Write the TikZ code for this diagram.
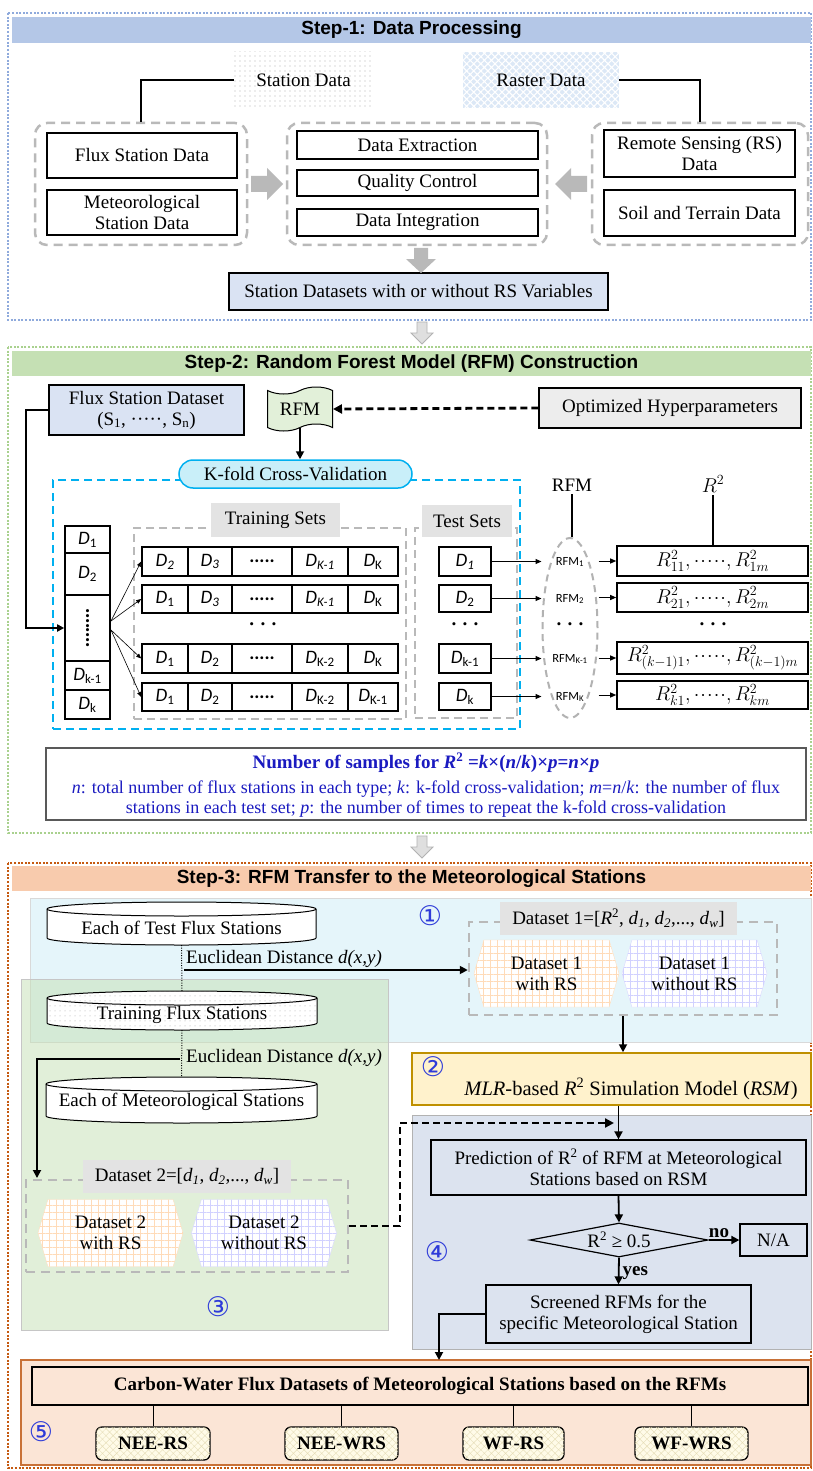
\documentclass[tikz,border=0pt]{standalone}
\usepackage{fix-cm}
\usepackage{graphicx}
\usepackage{fontspec}
\setmainfont{Liberation Serif}
\newfontfamily\headfont{Liberation Sans}
\newfontfamily\calfont{Carlito}
\newfontfamily\symfont{DejaVu Sans}
\DeclareMathSizes{19}{19}{13}{10}
\DeclareMathSizes{18}{18}{12.5}{9.5}
\DeclareMathSizes{20}{20}{14}{10}
\usetikzlibrary{arrows.meta,shapes.geometric,shapes.symbols,patterns,patterns.meta,calc}
\definecolor{fra}{HTML}{8FAADC}
\definecolor{hda}{HTML}{B4C7E7}
\definecolor{frb}{HTML}{A9D18E}
\definecolor{hdb}{HTML}{C5E0B4}
\definecolor{frc}{HTML}{C55A11}
\definecolor{hdc}{HTML}{F8CBAD}
\definecolor{lb}{HTML}{DAE3F3}
\definecolor{rfmg}{HTML}{E2F0D9}
\definecolor{optg}{HTML}{EDEDED}
\definecolor{cy}{HTML}{00B0F0}
\definecolor{kfill}{HTML}{C9EFF9}
\definecolor{labgray}{HTML}{E3E3E3}
\definecolor{nb}{HTML}{1A1AC0}
\definecolor{rega}{HTML}{E5F5FA}
\definecolor{regc}{HTML}{C5E0B4}
\definecolor{regd}{HTML}{DCE3EF}
\definecolor{rsmf}{HTML}{FFF2CC}
\definecolor{rsmb}{HTML}{BF9000}
\definecolor{rege}{HTML}{FBE5D6}
\definecolor{regeb}{HTML}{C87137}
\definecolor{circ}{HTML}{2E3BD9}
\definecolor{rastf}{HTML}{DCE8F6}
\definecolor{neef}{HTML}{FFFBE8}
\definecolor{neep}{HTML}{E6DDB8}
\newcommand\fs{\fontsize{19}{21}\selectfont}
\newcommand\Dn[1]{{\calfont\itshape D}\textsubscript{\calfont #1}}
\newcommand\Di[1]{{\calfont\itshape D\textsubscript{#1}}}
\newcommand\rowcells[8]{%
 \node[cell, rect={142,#2,188,#3}] (#1a) {#4};
 \node[cell, rect={188,#2,232,#3}] (#1b) {#5};
 \node[cell, rect={232,#2,292,#3}] (#1c) {#6};
 \node[cell, rect={292,#2,348,#3}] (#1d) {#7};
 \node[cell, rect={348,#2,398,#3}] (#1e) {#8};}
\newcommand\cdd{{\calfont\bfseries .....}}
\newcommand\rr[2]{$R^{2}_{#1},\cdot\!\cdot\!\cdot\!\cdot\!\cdot,R^{2}_{#2}$}
\begin{document}
\begin{tikzpicture}[x=1pt,y=-1pt,
  every node/.style={font=\fs, inner sep=0pt, align=center},
  rect/.style args={#1,#2,#3,#4}{minimum width={#3-#1}, minimum height={#4-#2}, at={({(#1+#3)/2},{(#2+#4)/2})}},
  bx/.style={draw, line width=1.5pt},
  cell/.style={draw, line width=1.6pt},
  grp/.style={draw=gray!55, line width=2.5pt, dash pattern=on 9pt off 6pt, rounded corners=12pt},
  sqgrp/.style={draw=gray!55, line width=2pt, dash pattern=on 8pt off 5pt},
  lab/.style={fill=labgray},
  hd/.style={font={\headfont\bfseries\fs}},
  arr/.style={line width=1.8pt, -{Triangle[length=8pt,width=8pt]}},
  thinarr/.style={line width=0.6pt, -{Triangle[length=5pt,width=4pt]}},
  midarr/.style={line width=1pt, -{Triangle[length=6pt,width=5pt]}},
  dasharr/.style={line width=2.8pt, dash pattern=on 7pt off 4pt, -{Triangle[length=9pt,width=9pt]}},
  sym/.style={font={\symfont\fontsize{27}{27}\selectfont}, text=circ},
  frame/.style={line width=2.5pt, dash pattern=on 2pt off 1.6pt},
  hexa/.style={signal, signal to=east and west, signal pointer angle=147, minimum width=145pt, minimum height=67pt, fill=white},
  neebox/.style={draw, line width=1.3pt, rounded corners=6pt, fill=neef, postaction={pattern={Hatch[angle=45,distance=5pt,line width=0.4pt]}, pattern color=neep}, font={\bfseries\fs}},
  barr/.style={fill=gray!100!black!55},
  mfont/.style={font=\calfont\fontsize{12.5}{13}\selectfont},
  rfont/.style={font=\fontsize{20}{22}\selectfont}
]
\useasboundingbox (0,0) rectangle (813,1471);
\fill[white] (0,0) rectangle (813,1471);

%% ================= STEP 1 =================
\draw[frame, draw=fra] (8,13) rectangle (811,320);
\node[fill=hda, hd, rect={12,17,811,43}] (h1) {Step-1: Data Processing};

\node[rect={234,52,373,108}, fill=white, postaction={pattern={Dots[distance=5pt,radius=0.6pt]}, pattern color=gray!60}] (stat) {Station Data};
\node[rect={463,52,619,108}, fill=rastf, postaction={pattern={Hatch[angle=45,distance=5pt,line width=1.1pt]}, pattern color=white}] (rast) {Raster Data};

\node[grp, rect={35,123,247,245}] (lgrp) {};
\node[grp, rect={287,123,547,245}] (mgrp) {};
\node[grp, rect={592,123,808,245}] (rgrp) {};

\draw[line width=2.2pt] (stat.west) -| (lgrp.north);
\draw[line width=2.2pt] (rast.east) -| (rgrp.north);

\node[bx, rect={47,133,237,178}] (flux) {Flux Station Data};
\node[bx, rect={47,190,237,235}] (met) {Meteorological\\Station Data};
\node[bx, rect={297,131,538,159}] (ext) {Data Extraction};
\node[bx, rect={297,170,538,196}] (qc) {Quality Control};
\node[bx, rect={297,209,538,236}] (integ) {Data Integration};
\node[bx, rect={604,130,795,177}] (rs) {Remote Sensing (RS)\\Data};
\node[bx, rect={604,190,795,236}] (soil) {Soil and Terrain Data};
\node[bx, fill=lb, rect={229,273,608,310}] (sds) {Station Datasets with or without RS Variables};

\fill[barr] (251,176) -- (267,176) -- (267,168) -- (283,184) -- (267,200) -- (267,192) -- (251,192) -- cycle;
\fill[barr] (587,176) -- (571,176) -- (571,168) -- (555,184) -- (571,200) -- (571,192) -- (587,192) -- cycle;
\fill[barr] (414,248) -- (428,248) -- (428,259) -- (436,259) -- (421,273) -- (406,259) -- (414,259) -- cycle;

\draw[draw=gray!60, fill=gray!25, line width=0.8pt] (417,322) -- (427,322) -- (427,333) -- (433,333) -- (422,344) -- (411,333) -- (417,333) -- cycle;

%% ================= STEP 2 =================
\draw[frame, draw=frb] (8,347) rectangle (811,833);
\node[fill=hdb, hd, rect={12,351,811,376}] (h2) {Step-2: Random Forest Model (RFM) Construction};

\node[bx, fill=lb, rect={49,385,244,435}] (fsd) {Flux Station Dataset\\(S\textsubscript{1}, ·····, S\textsubscript{n})};
\node[tape, draw, line width=1pt, fill=rfmg, minimum width=65pt, minimum height=44pt, tape bend height=7pt] (rfm) at (300,409) {RFM};
\node[bx, fill=optg, rect={539,388,801,428}] (opt) {Optimized Hyperparameters};
\draw[dasharr] (opt.west) -- (rfm.east);

\node[draw=cy, line width=2pt, dash pattern=on 8pt off 5pt, rect={53,480,520,729}] (cvbox) {};
\node[draw=cy, line width=1.5pt, fill=kfill, rounded corners=14pt, rect={179,460,412,488}] (kf) {K-fold Cross-Validation};
\draw[arr] (rfm.south) -- (rfm.south |- kf.north);

% D column
\node[cell, rect={65,526,110,553}] (d1) {\Dn{1}};
\node[cell, rect={65,553,110,595}] (d2) {\Dn{2}};
\node[cell, rect={65,595,110,661}] (ddots) {\rotatebox{90}{\bfseries ........}};
\node[cell, rect={65,661,110,690}] (dk1) {\Dn{k-1}};
\node[cell, rect={65,690,110,719}] (dk) {\Dn{k}};
\coordinate (lx) at (26,0);
\draw[line width=1.8pt, -{Triangle[length=7pt,width=7pt]}] (fsd.west) -| (lx |- ddots.west) -- (ddots.west);

% training sets
\node[sqgrp, rect={134,528,406,719}] (trgrp) {};
\node[lab, rect={211,503,340,537}] (trlab) {Training Sets};
\rowcells{ra}{547}{576}{\Di{2}}{\Di{3}}{\cdd}{\Di{K-1}}{\Dn{K}}
\rowcells{rb}{585}{613}{\Dn{1}}{\Di{3}}{\cdd}{\Di{K-1}}{\Dn{K}}
\rowcells{rc}{644}{673}{\Dn{1}}{\Dn{2}}{\cdd}{\Dn{K-2}}{\Dn{K}}
\rowcells{rd}{683}{711}{\Dn{1}}{\Dn{2}}{\cdd}{\Dn{K-2}}{\Dn{K-1}}
\node (tdots) at (263,627) {\bfseries · · ·};
\coordinate (fa) at (111,621);
\coordinate (fb) at (111,630);
\draw[thinarr] (fa) -- (raa.west);
\draw[thinarr] (fa) -- (rba.west);
\draw[thinarr] (fb) -- (rca.west);
\draw[thinarr] (fb) -- (rda.west);

% test sets
\node[sqgrp, rect={415,528,517,718}] (tsgrp) {};
\node[lab, rect={422,505,512,537}] (tslab) {Test Sets};
\node[cell, rect={439,547,491,576}] (t1) {\Di{1}};
\node[cell, rect={439,585,491,612}] (t2) {\Dn{2}};
\node[cell, rect={439,644,491,673}] (t3) {\Dn{k-1}};
\node[cell, rect={439,683,491,710}] (t4) {\Dn{k}};
\node (sdots) at (465,627) {\bfseries · · ·};

% RFM ellipse
\node[draw=gray!60, line width=2pt, dash pattern=on 7pt off 5pt, ellipse, minimum width=55pt, minimum height=180pt] (rell) at (570,628) {};
\node[mfont] (m1) at (570,562) {RFM\textsubscript{1}};
\node[mfont] (m2) at (570,599) {RFM\textsubscript{2}};
\node (mdots) at (570,627) {\bfseries · · ·};
\node[mfont] (m3) at (570,659) {RFM\textsubscript{K-1}};
\node[mfont] (m4) at (570,697) {RFM\textsubscript{K}};

% R boxes
\node[cell, rfont, rect={617,546,808,576}] (q1) {\rr{11}{1m}};
\node[cell, rfont, rect={617,583,808,612}] (q2) {\rr{21}{2m}};
\node (qdots) at (713,627) {\bfseries · · ·};
\node[cell, rfont, rect={617,642,808,674}] (q3) {\rr{(k-1)1}{(k-1)m}};
\node[cell, rfont, rect={617,681,808,709}] (q4) {\rr{k1}{km}};

\foreach \t/\q in {t1/q1,t2/q2,t3/q3,t4/q4}{
  \draw[midarr] (\t.east) -- (\t.east -| rell.west);
  \draw[midarr] (rell.east |- \q.west) -- (\q.west);
}
\node (rfmlab) at (572,485) {RFM};
\draw[line width=2.2pt] ([yshift=-3pt]rfmlab.south) -- (rfmlab.south |- rell.north);
\node[rfont] (r2lab) at (713,484) {$R^2$};
\draw[line width=2.5pt] ([yshift=-3pt]r2lab.south) -- (r2lab.south |- q1.north);

% number of samples
\node[draw=gray!70!black, line width=2pt, rect={46,748,806,820}] (nbox) {};
\node[text=nb, font=\bfseries\fs] (nl1) at (426,763) {Number of samples for \textit{R}\textsuperscript{2} =\textit{k}×(\textit{n}/\textit{k})×\textit{p}=\textit{n}×\textit{p}};
\node[text=nb, font=\fontsize{18}{20}\selectfont] (nl2) at (426,789) {\textit{n}: total number of flux stations in each type; \textit{k}: k-fold cross-validation; \textit{m}=\textit{n}/\textit{k}: the number of flux};
\node[text=nb, font=\fontsize{18}{20}\selectfont] (nl3) at (426,809) {stations in each test set; \textit{p}: the number of times to repeat the k-fold cross-validation};

\draw[draw=gray!60, fill=gray!25, line width=0.8pt] (417,836) -- (427,836) -- (427,847) -- (433,847) -- (422,858) -- (411,847) -- (417,847) -- cycle;

%% ================= STEP 3 =================
\draw[frame, draw=frc] (8,863) rectangle (811,1468);
\node[fill=hdc, hd, rect={12,866,811,891}] (h3) {Step-3: RFM Transfer to the Meteorological Stations};

\node[draw=gray!30, line width=0.8pt, fill=rega, rect={30,898,811,1042}] (rega) {};
\node[draw=gray!45, line width=0.8pt, fill=regc, fill opacity=0.5, rect={21,979,388,1330}] (regc) {};

% cylinders
\draw[line width=1pt, fill=white] (47,909) -- (47,938) arc[start angle=180,end angle=360,x radius=134.5pt,y radius=7pt] -- (316,909) arc[start angle=0,end angle=180,x radius=134.5pt,y radius=7pt] -- cycle;
\draw[line width=1pt] (47,909) arc[start angle=180,end angle=360,x radius=134.5pt,y radius=7pt];
\node[rect={47,902,316,945}] (cy1) {};
\node (c1t) at (181.5,928) {Each of Test Flux Stations};

\draw[line width=1pt, fill=white, postaction={pattern={Dots[distance=5pt,radius=0.5pt]}, pattern color=gray!70}] (47,998) -- (47,1023) arc[start angle=180,end angle=360,x radius=135pt,y radius=7pt] -- (317,998) arc[start angle=0,end angle=180,x radius=135pt,y radius=7pt] -- cycle;
\draw[line width=1pt] (47,998) arc[start angle=180,end angle=360,x radius=135pt,y radius=7pt];
\node[rect={47,991,317,1030}] (cy2) {};
\node (c2t) at (182,1015) {Training Flux Stations};

\draw[line width=1pt, fill=white] (46,1084) -- (46,1116) arc[start angle=180,end angle=360,x radius=135.5pt,y radius=7pt] -- (317,1084) arc[start angle=0,end angle=180,x radius=135.5pt,y radius=7pt] -- cycle;
\draw[line width=1pt] (46,1084) arc[start angle=180,end angle=360,x radius=135.5pt,y radius=7pt];
\node[rect={46,1077,317,1123}] (cy3) {};
\node (c3t) at (181.5,1102) {Each of Meteorological Stations};

\draw[line width=1pt, dash pattern=on 1pt off 1.5pt] (cy1.south) -- (cy2.north);
\draw[line width=1pt, dash pattern=on 1pt off 1.5pt] (cy2.south) -- (cy3.north);

\node[anchor=west] (eu1) at (186,959) {Euclidean Distance \textit{d(x,y)}};
\node[anchor=west] (eu2) at (186,1058) {Euclidean Distance \textit{d(x,y)}};

% dataset 1
\node[sqgrp, line width=2.5pt, dash pattern=on 9pt off 6pt, rect={469,922,777,1015}] (ds1grp) {};
\node[lab, rect={500,902,737,935}] (ds1lab) {Dataset 1=[\textit{R}\textsuperscript{2}, \textit{d}\textsubscript{\textit{1}}, \textit{d}\textsubscript{\textit{2}},..., \textit{d}\textsubscript{\textit{w}}]};
\node[hexa, draw=orange!25, postaction={pattern={Hatch[angle=0,distance=7pt,line width=0.4pt]}, pattern color=orange!28}] (hx1) at (546.5,973.5) {Dataset 1\\with RS};
\node[hexa, draw=blue!15, postaction={pattern={Hatch[angle=0,distance=7pt,line width=0.4pt]}, pattern color=blue!18}] (hx2) at (694.5,973.5) {Dataset 1\\without RS};
\coordinate (e1s) at (184,970);
\draw[arr] (e1s) -- (e1s -| ds1grp.west);

% dataset 2
\node[sqgrp, line width=2.5pt, dash pattern=on 9pt off 6pt, rect={26,1180,348,1272}] (ds2grp) {};
\node[lab, rect={83,1160,291,1193}] (ds2lab) {Dataset 2=[\textit{d}\textsubscript{\textit{1}}, \textit{d}\textsubscript{\textit{2}},..., \textit{d}\textsubscript{\textit{w}}]};
\node[hexa, draw=orange!25, postaction={pattern={Hatch[angle=0,distance=7pt,line width=0.4pt]}, pattern color=orange!28}] (hx3) at (110.5,1233) {Dataset 2\\with RS};
\node[hexa, draw=blue!15, postaction={pattern={Hatch[angle=0,distance=7pt,line width=0.4pt]}, pattern color=blue!18}] (hx4) at (264,1233) {Dataset 2\\without RS};
\coordinate (e2s) at (180,1059);
\coordinate (e2e) at (37,1178);
\draw[arr] (e2s) -| (e2e);

\node[sym] (n1) at (430,916) {①};
\node[sym] (n3) at (218,1307) {③};

% RSM
\node[draw=rsmb, line width=1.5pt, fill=rsmf, rect={412,1053,811,1105}] (rsm) {};
\node[font=\fontsize{20.5}{22}\selectfont] (rsmt) at (631,1089) {\textit{MLR}-based \textit{R}\textsuperscript{2} Simulation Model (\textit{RSM})};
\node[sym] (n2) at (433,1067) {②};
\draw[arr] (ds1grp.south) -- (ds1grp.south |- rsm.north);

% region 4
\node[draw=gray!60, line width=1pt, fill=regd, rect={412,1115,811,1349}] (regd) {};
\node[bx, line width=1.3pt, rect={431,1140,806,1195}] (pred) {Prediction of R\textsuperscript{2} of RFM at Meteorological\\Stations based on RSM};
\draw[arr] (pred.north |- rsm.south) -- (pred.north);
\coordinate (dk) at (400,1123);
\coordinate (dkend) at (614,1123);
\draw[dasharr] (ds2grp.east) -| (dk) -- (dkend);

\node[diamond, draw, line width=1.2pt, minimum width=178pt, minimum height=34pt, aspect=5] (dia) at (619,1240) {R\textsuperscript{2} ≥ 0.5};
\draw[arr] (pred.south) -- (dia.north);
\node[bx, line width=1.3pt, rect={740,1224,807,1256}] (na) {N/A};
\draw[arr] (dia.east) -- node[above, font=\bfseries\fs, xshift=-5pt, yshift=1pt] {no} (na.west);
\node[bx, line width=1.3pt, fill=regd, rect={486,1285,751,1343}] (scr) {Screened RFMs for the\\specific Meteorological Station};
\draw[arr] (dia.south) -- node[right, font=\bfseries\fs, xshift=3pt, yshift=-2pt] {yes} (scr.north);
\node[sym] (n4) at (437,1252) {④};

% region 5
\node[draw=regeb, line width=1.5pt, fill=rege, rect={21,1360,811,1465}] (rege) {};
\coordinate (s5) at (439,1360);
\draw[arr] (scr.west) -| (s5);
\node[bx, fill=rege, rect={32,1367,808,1405}, font=\bfseries\fs] (cw) {Carbon-Water Flux Datasets of Meteorological Stations based on the RFMs};
\node[neebox, rect={96,1427,210,1460}] (o1) {NEE-RS};
\node[neebox, rect={285,1427,398,1460}] (o2) {NEE-WRS};
\node[neebox, rect={463,1427,564,1460}] (o3) {WF-RS};
\node[neebox, rect={635,1427,748,1460}] (o4) {WF-WRS};
\foreach \o in {o1,o2,o3,o4}{\draw[line width=1pt] (\o.north |- cw.south) -- (\o.north);}
\node[sym] (n5) at (41,1432) {⑤};
\end{tikzpicture}
\end{document}
